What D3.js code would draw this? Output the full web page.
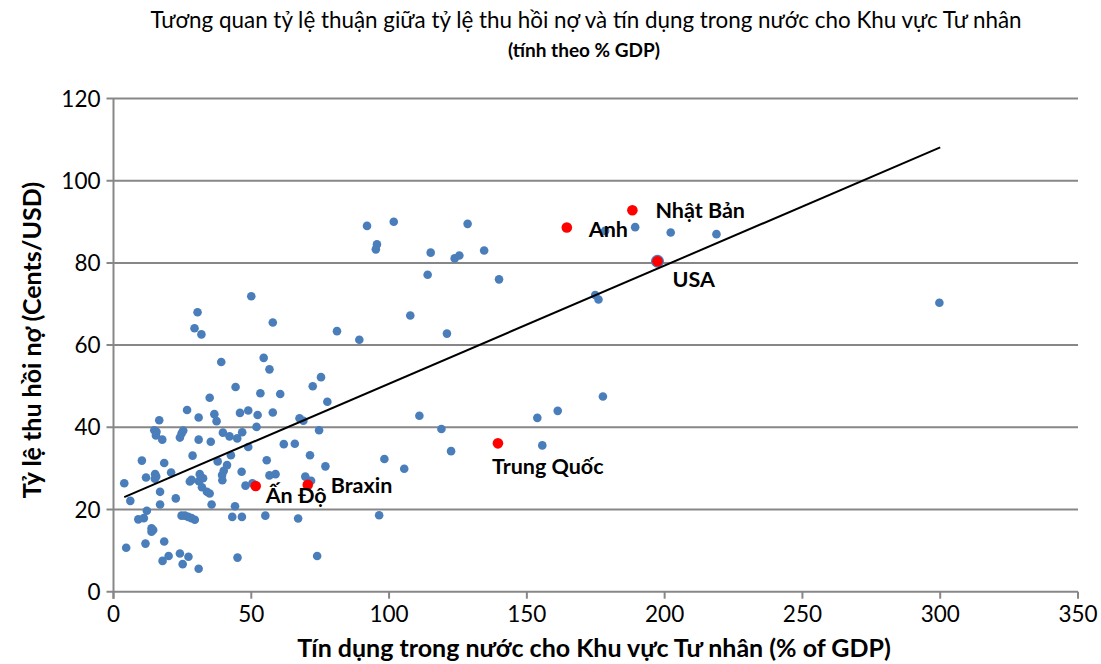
<!DOCTYPE html>
<html>
<head>
<meta charset="utf-8">
<script src="https://cdn.jsdelivr.net/npm/d3@7/dist/d3.min.js"></script>
<style>
  body { margin: 0; background: #fff; }
  svg text { font-family: Lato, "Open Sans", sans-serif; fill: #000; }
</style>
</head>
<body>
<div id="chart"></div>
<script>
// tín dụng trong nước cho khu vực tư nhân (% GDP) - các nước
var creditGdp = [50.0, 30.5, 57.8, 29.4, 31.9, 39.1, 54.5, 56.6, 44.3, 53.3,
  60.5, 34.9, 26.7, 48.9, 45.9, 57.8, 36.6, 52.3, 30.9, 16.6,
  37.4, 67.5, 51.9, 14.8, 15.6, 15.4, 39.7, 42.1, 46.7, 44.9,
  25.3, 24.7, 30.9, 35.3, 24.1, 17.7, 48.9, 61.8, 65.8, 28.7,
  42.6, 55.6, 10.3, 18.4, 37.8, 41.2, 20.9, 40.0, 39.4, 39.5,
  46.5, 56.6, 58.8, 11.8, 15.1, 15.5, 15.0, 31.3, 32.5, 31.0,
  27.7, 28.3, 3.9, 47.9, 50.4, 32.1, 33.9, 34.9, 16.9, 22.6,
  6.1, 16.9, 35.6, 44.1, 12.1, 9.0, 11.0, 24.7, 25.9, 27.1,
  28.3, 29.5, 43.1, 46.6, 55.1, 67.0, 13.8, 14.4, 13.8, 11.6,
  18.4, 4.6, 24.1, 20.0, 17.8, 27.2, 25.1, 45.0, 30.9, 92.0,
  101.7, 128.5, 95.6, 95.2, 115.1, 123.8, 125.5, 134.5, 114.0, 139.9,
  107.7, 81.1, 89.2, 121.0, 75.3, 72.3, 77.6, 68.9, 74.6, 111.0,
  119.0, 71.3, 76.9, 98.3, 105.5, 122.5, 69.6, 71.7, 96.4, 73.9,
  178.4, 189.3, 202.2, 218.8, 174.8, 176.0, 177.6, 161.2, 153.8, 155.6,
  299.7];
// tỷ lệ thu hồi nợ (cents/USD)
var recoveryRate = [71.9, 68.0, 65.5, 64.1, 62.6, 55.9, 56.9, 54.1, 49.8, 48.3,
  48.1, 47.2, 44.2, 44.1, 43.5, 43.6, 43.2, 43.0, 42.4, 41.7,
  41.5, 42.2, 40.1, 39.3, 38.9, 38.0, 38.7, 37.8, 38.8, 37.3,
  39.2, 38.5, 37.0, 36.5, 37.5, 37.0, 35.2, 35.9, 36.0, 33.1,
  33.2, 32.0, 31.9, 31.3, 31.7, 30.8, 29.0, 29.4, 28.4, 27.1,
  29.2, 28.3, 28.6, 27.8, 28.6, 28.0, 27.5, 28.6, 27.6, 26.9,
  26.8, 27.2, 26.4, 25.8, 26.4, 25.4, 24.3, 23.9, 24.3, 22.7,
  22.1, 21.2, 21.2, 20.8, 19.7, 17.6, 17.9, 18.5, 18.5, 18.2,
  17.9, 17.5, 18.2, 18.2, 18.5, 17.8, 15.4, 15.0, 14.6, 11.7,
  12.2, 10.7, 9.3, 8.7, 7.5, 8.5, 6.7, 8.3, 5.6, 89.0,
  90.0, 89.5, 84.5, 83.3, 82.5, 81.1, 81.8, 83.0, 77.1, 76.0,
  67.2, 63.4, 61.3, 62.8, 52.2, 50.0, 46.2, 41.6, 39.3, 42.8,
  39.6, 33.2, 30.5, 32.3, 29.9, 34.2, 28.0, 27.0, 18.6, 8.7,
  87.8, 88.7, 87.4, 87.0, 72.2, 71.1, 47.5, 44.0, 42.3, 35.6,
  70.3];

// các nước được đánh dấu
var hlNames = ["Ấn Độ", "Braxin", "Trung Quốc", "Anh", "Nhật Bản", "USA"];
var hlCredit = [51.6, 70.5, 139.5, 164.5, 188.3, 197.4];
var hlRecovery = [25.7, 26.0, 36.1, 88.6, 92.8, 80.4];

// đường xu hướng
var trendCredit = [3.9, 300];
var trendRecovery = [23.0, 108.1];

var xTicks = [0, 50, 100, 150, 200, 250, 300, 350];
var yTicks = [0, 20, 40, 60, 80, 100, 120];

var chartTitle = "Tương quan tỷ lệ thuận giữa tỷ lệ thu hồi nợ và tín dụng trong nước cho Khu vực Tư nhân";
var chartSub = "(tính theo % GDP)";
var xTitle = "Tín dụng trong nước cho Khu vực Tư nhân (% of GDP)";
var yTitle = "Tỷ lệ thu hồi nợ (Cents/USD)";

var W = 1101, H = 664;
var margin = {top: 98.5, right: 23, bottom: 72.3, left: 113.5};
var w = W - margin.left - margin.right,
    h = H - margin.top - margin.bottom;

// vị trí nhãn so với điểm (px)
var labelOffset = [[10, 17], [23, 8], [-6, 31], [22, 9], [23, 8], [15, 26]];

var svg = d3.select("#chart").append("svg")
    .attr("width", W)
    .attr("height", H);

svg.append("text")
    .attr("x", 586).attr("y", 28)
    .attr("text-anchor", "middle")
    .attr("font-size", "22.4px")
    .text(chartTitle);
svg.append("text")
    .attr("x", 584).attr("y", 57)
    .attr("text-anchor", "middle")
    .attr("font-size", "19px")
    .attr("font-weight", "bold")
    .text(chartSub);

var g = svg.append("g")
    .attr("transform", "translate(" + margin.left + "," + margin.top + ")");

var x = d3.scaleLinear().domain([0, 350]).range([0, w]);
var y = d3.scaleLinear().domain([0, 120]).range([h, 0]);

// lưới ngang
g.selectAll(".grid")
    .data(yTicks)
    .enter().append("line")
    .attr("class", "grid")
    .attr("x1", -7).attr("x2", w)
    .attr("y1", function(d){ return y(d); })
    .attr("y2", function(d){ return y(d); })
    .attr("stroke", "#878787")
    .attr("stroke-width", 2);

g.append("line")
    .attr("x1", 0).attr("x2", 0)
    .attr("y1", 0).attr("y2", h + 7)
    .attr("stroke", "#878787")
    .attr("stroke-width", 2);

g.selectAll(".xtick")
    .data(xTicks)
    .enter().append("line")
    .attr("class", "xtick")
    .attr("x1", function(d){ return x(d); })
    .attr("x2", function(d){ return x(d); })
    .attr("y1", h).attr("y2", h + 7)
    .attr("stroke", "#878787")
    .attr("stroke-width", 2);

g.selectAll(".ylab")
    .data(yTicks)
    .enter().append("text")
    .attr("class", "ylab")
    .attr("x", -13)
    .attr("y", function(d){ return y(d) + 8; })
    .attr("text-anchor", "end")
    .attr("font-size", "22.5px")
    .text(function(d){ return d; });

g.selectAll(".xlab")
    .data(xTicks)
    .enter().append("text")
    .attr("class", "xlab")
    .attr("x", function(d){ return x(d); })
    .attr("y", h + 30)
    .attr("text-anchor", "middle")
    .attr("font-size", "22.5px")
    .text(function(d){ return d; });

svg.append("text")
    .attr("x", 594).attr("y", 657)
    .attr("text-anchor", "middle")
    .attr("font-size", "25px")
    .attr("font-weight", "bold")
    .text(xTitle);

svg.append("text")
    .attr("transform", "translate(41,340) rotate(-90)")
    .attr("text-anchor", "middle")
    .attr("font-size", "25px")
    .attr("font-weight", "bold")
    .text(yTitle);

// điểm
var pts = creditGdp.map(function(d, i){ return {x: d, y: recoveryRate[i]}; });
g.selectAll(".pt")
    .data(pts)
    .enter().append("circle")
    .attr("class", "pt")
    .attr("cx", function(d){ return x(d.x); })
    .attr("cy", function(d){ return y(d.y); })
    .attr("r", 4.3)
    .attr("fill", "#4a7ebb");

// USA cũng là 1 điểm xanh (lớn hơn) dưới chấm đỏ
g.append("circle")
    .attr("cx", x(hlCredit[5]))
    .attr("cy", y(hlRecovery[5]))
    .attr("r", 6.5)
    .attr("fill", "#4a7ebb");

var line = d3.line()
    .x(function(d){ return x(d[0]); })
    .y(function(d){ return y(d[1]); });
g.append("path")
    .attr("d", line(trendCredit.map(function(d, i){ return [d, trendRecovery[i]]; })))
    .attr("fill", "none")
    .attr("stroke", "#000")
    .attr("stroke-width", 2);

var hl = hlNames.map(function(d, i){ return {name: d, x: hlCredit[i], y: hlRecovery[i], off: labelOffset[i]}; });
g.selectAll(".hl")
    .data(hl)
    .enter().append("circle")
    .attr("class", "hl")
    .attr("cx", function(d){ return x(d.x); })
    .attr("cy", function(d){ return y(d.y); })
    .attr("r", 5.3)
    .attr("fill", "#ff0000");

g.selectAll(".hlt")
    .data(hl)
    .enter().append("text")
    .attr("class", "hlt")
    .attr("x", function(d){ return x(d.x) + d.off[0]; })
    .attr("y", function(d){ return y(d.y) + d.off[1]; })
    .attr("font-size", "21.5px")
    .attr("font-weight", "bold")
    .text(function(d){ return d.name; });
</script>
</body>
</html>
